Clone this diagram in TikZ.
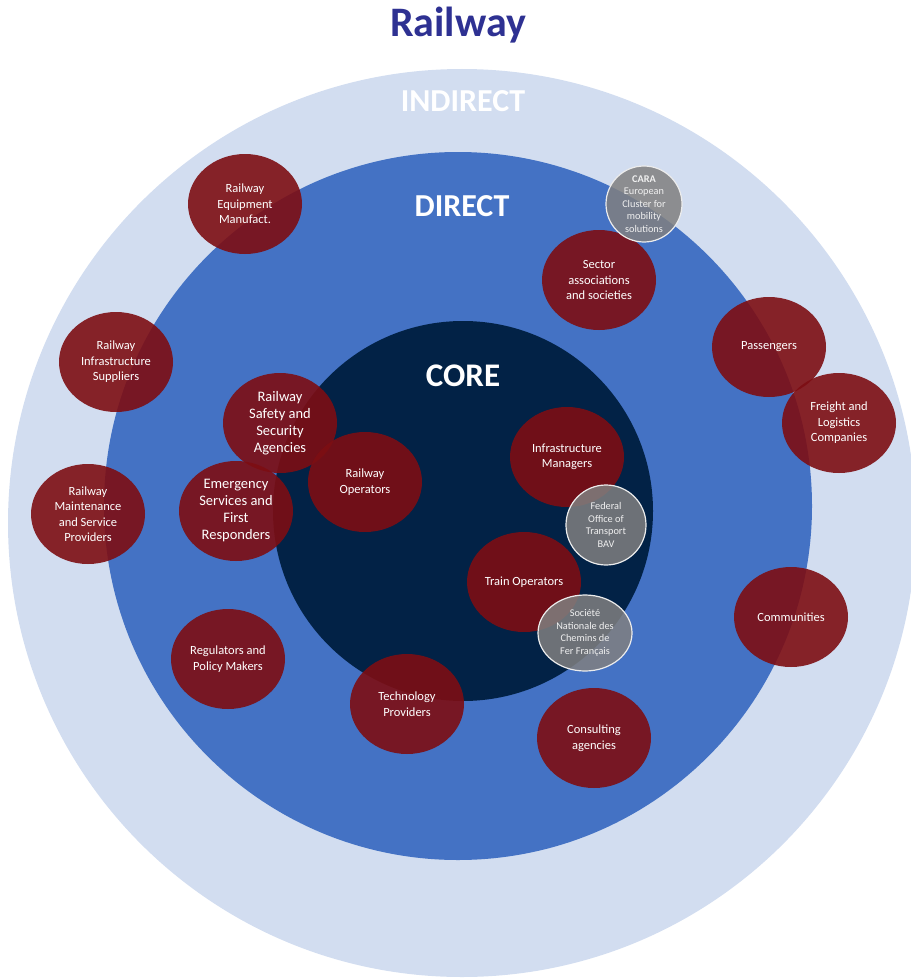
\documentclass[tikz,border=0pt]{standalone}
\usepackage{fontspec}
\setmainfont{Carlito}
\usetikzlibrary{shapes.geometric}

\definecolor{indirectblue}{RGB}{210,221,240}
\definecolor{directblue}{RGB}{68,114,196}
\definecolor{corenavy}{RGB}{2,34,70}
\definecolor{stakered}{RGB}{125,14,19}
\definecolor{titleblue}{RGB}{46,49,146}

\begin{document}
\begin{tikzpicture}[x=1pt,y=-1pt,
  ring label/.style={text=white,font=\bfseries},
  stake/.style={ellipse,fill=stakered,fill opacity=0.9,text opacity=1,text=white,
    minimum width=114,minimum height=100,inner sep=0pt,align=center,
    font=\fontsize{12.5}{15.5}\selectfont},
  big stake/.style={stake,font=\fontsize{14.5}{17}\selectfont},
  member/.style={circle,fill=gray,fill opacity=0.85,text opacity=1,draw=white!85!gray,
    draw opacity=1,line width=1.2pt,text=white!88!gray,inner sep=0pt,align=center,
    font=\fontsize{10.3}{12.5}\selectfont}]
  \useasboundingbox (0,0) rectangle (910,979);

  % the three rings
  \fill[indirectblue] (462,523) circle (454);
  \fill[directblue] (458,506) circle (354);
  \fill[corenavy] (463,511) circle (190);

  \node[font=\bfseries\fontsize{42}{46}\selectfont,text=titleblue] (title) at (458,25) {Railway};
  \node[ring label,font=\bfseries\fontsize{32}{36}\selectfont] (indirect) at (463,101) {INDIRECT};
  \node[ring label,font=\bfseries\fontsize{32}{36}\selectfont] (direct) at (462,206) {DIRECT};
  \node[ring label,font=\bfseries\fontsize{33}{37}\selectfont] (core) at (463,376) {CORE};

  % stakeholders
  \node[stake] (equip) at (245,204) {Railway\\Equipment\\Manufact.};
  \node[stake] (sector) at (599,280) {Sector\\associations\\and societies};
  \node[member,minimum size=76] (cara) at (644,204) {\textbf{CARA}\\European\\Cluster for\\mobility\\solutions};
  \node[stake] (pass) at (769,347) {Passengers};
  \node[stake] (freight) at (839,423) {Freight and\\Logistics\\Companies};
  \node[stake] (suppl) at (116,362) {Railway\\Infrastructure\\Suppliers};
  \node[big stake] (safety) at (280,423) {Railway\\Safety and\\Security\\Agencies};
  \node[stake] (railop) at (365,482) {Railway\\Operators};
  \node[stake] (infman) at (567,457) {Infrastructure\\Managers};
  \node[stake] (maint) at (88,514) {Railway\\Maintenance\\and Service\\Providers};
  \node[big stake] (emerg) at (236,511) {Emergency\\Services and\\First\\Responders};
  \node[member,minimum size=80] (bav) at (606,525) {Federal\\Office of\\Transport\\BAV};
  \node[stake] (trainop) at (524,582) {Train Operators};
  \node[member,ellipse,minimum width=94,minimum height=76] (sncf) at (585,633) {Société\\Nationale des\\Chemins de\\Fer Français};
  \node[stake] (comm) at (791,617) {Communities};
  \node[stake] (regul) at (228,659) {Regulators and\\Policy Makers};
  \node[stake] (tech) at (407,704) {Technology\\Providers};
  \node[stake] (consult) at (594,738) {Consulting\\agencies};
\end{tikzpicture}
\end{document}
